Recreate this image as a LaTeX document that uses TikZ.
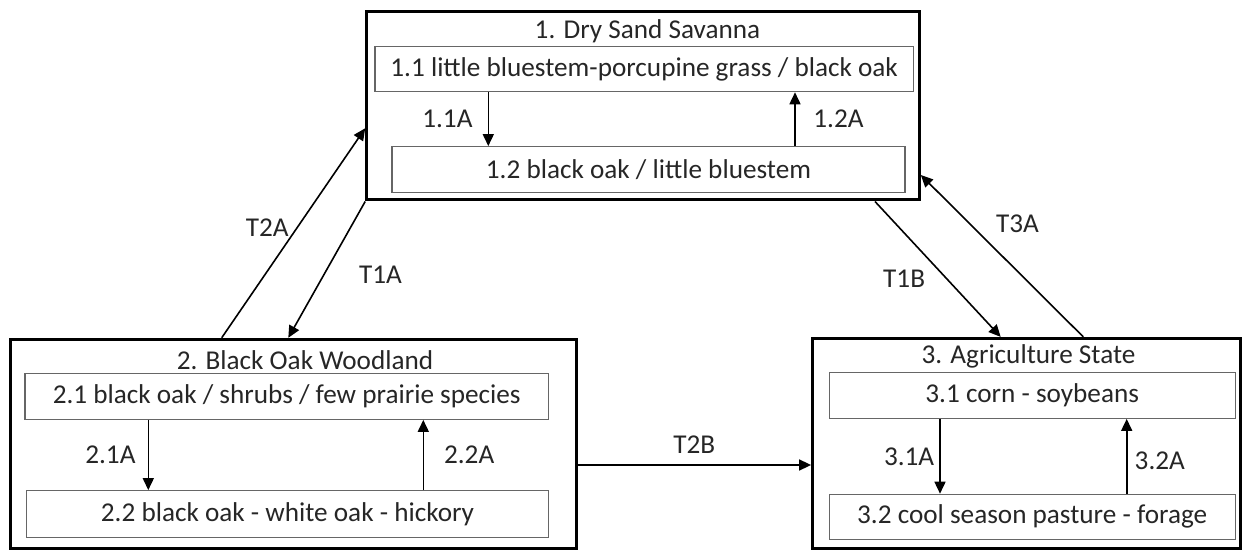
\documentclass[tikz,border=0pt]{standalone}
\usepackage{fontspec}
\setmainfont{Carlito}
\usepackage{tikz}
\usetikzlibrary{arrows.meta}

\begin{document}
\begin{tikzpicture}[x=0.5pt,y=-0.5pt,font=\fontsize{13.6}{16}\selectfont,text=black!85,
    >={Triangle[length=6pt,width=5.5pt]},
    state/.style={rectangle,draw,line width=1.5pt,inner sep=0pt},
    phase/.style={rectangle,draw=black!60,line width=0.6pt,inner sep=0pt},
    lbl/.style={inner sep=1pt}]
\useasboundingbox (0,0) rectangle (1242,550);
% state boxes
\node (state1) at (643,105.8)    [state,minimum width=276.3pt,minimum height=94.2pt] {};
\node (state2) at (293,443.8)    [state,minimum width=283pt,minimum height=104.5pt] {};
\node (state3) at (1026.3,443.2) [state,minimum width=213.7pt,minimum height=104.8pt] {};
\node (title1) at (647.5,31.7) {1. Dry Sand Savanna};
\node (title2) at (305,360)    {2. Black Oak Woodland};
\node (title3) at (1028.5,356) {3. Agriculture State};
% community phases
\node (c11) at (644.2,69.2)   [phase,minimum width=269.2pt,minimum height=22.5pt] {1.1 little bluestem-porcupine grass / black oak};
\node (c12) at (648.5,169.7)  [phase,minimum width=256.5pt,minimum height=23pt]   {1.2 black oak / little bluestem};
\node (c21) at (286.7,396.3)  [phase,minimum width=261.7pt,minimum height=23pt]   {2.1 black oak / shrubs / few prairie species};
\node (c22) at (287.5,514)    [phase,minimum width=260.8pt,minimum height=23.3pt] {2.2 black oak - white oak - hickory};
\node (c31) at (1032.2,395.3) [phase,minimum width=202.9pt,minimum height=23pt]   {3.1 corn - soybeans};
\node (c32) at (1032.2,516.8) [phase,minimum width=202.9pt,minimum height=22.5pt] {3.2 cool season pasture - forage};
% pathways inside states
\draw [thick,->] (c11.south -| 488.3,0)  to node [lbl,left=6.5pt]  {1.1A} (c12.north -| 488.3,0);
\draw [thick,->] (c12.north -| 795,0)    to node [lbl,right=7.8pt] {1.2A} (c11.south -| 795,0);
\draw [thick,->] (c21.south -| 148.3,0)  to node [lbl,left=5pt]    {2.1A} (c22.north -| 148.3,0);
\draw [thick,->] (c22.north -| 423.3,0)  to node [lbl,right=9pt]   {2.2A} (c21.south -| 423.3,0);
\draw [thick,->] (c31.south -| 940,0)    to node [lbl,left=1.5pt]  {3.1A} (c32.north -| 940,0);
\draw [thick,->] (c32.north -| 1126.7,0) to node [lbl,right=2.6pt,yshift=-2pt] {3.2A} (c31.south -| 1126.7,0);
% transitions between states
\draw [thick,->] (state2.north -| 221.7,0) to node [lbl,pos=0.528,left=3pt]   {T2A} (state1.west |- 0,128.3);
\draw [thick,->] (state1.south west)       to node [lbl,pos=0.54,right=16.3pt] {T1A} (state2.north -| 288.3,0);
\draw [thick,->] (state1.south -| 875,0)   to node [lbl,pos=0.57,left=9.4pt]   {T1B} (state3.north -| 1000.7,0);
\draw [thick,->] (state3.north -| 1083.3,0) to node [lbl,pos=0.70,right=11.9pt] {T3A} (state1.east |- 0,175);
\draw [thick,->] (state2.east |- 0,465)    to node [lbl,above=4.6pt]           {T2B} (state3.west |- 0,465);
\end{tikzpicture}
\end{document}
